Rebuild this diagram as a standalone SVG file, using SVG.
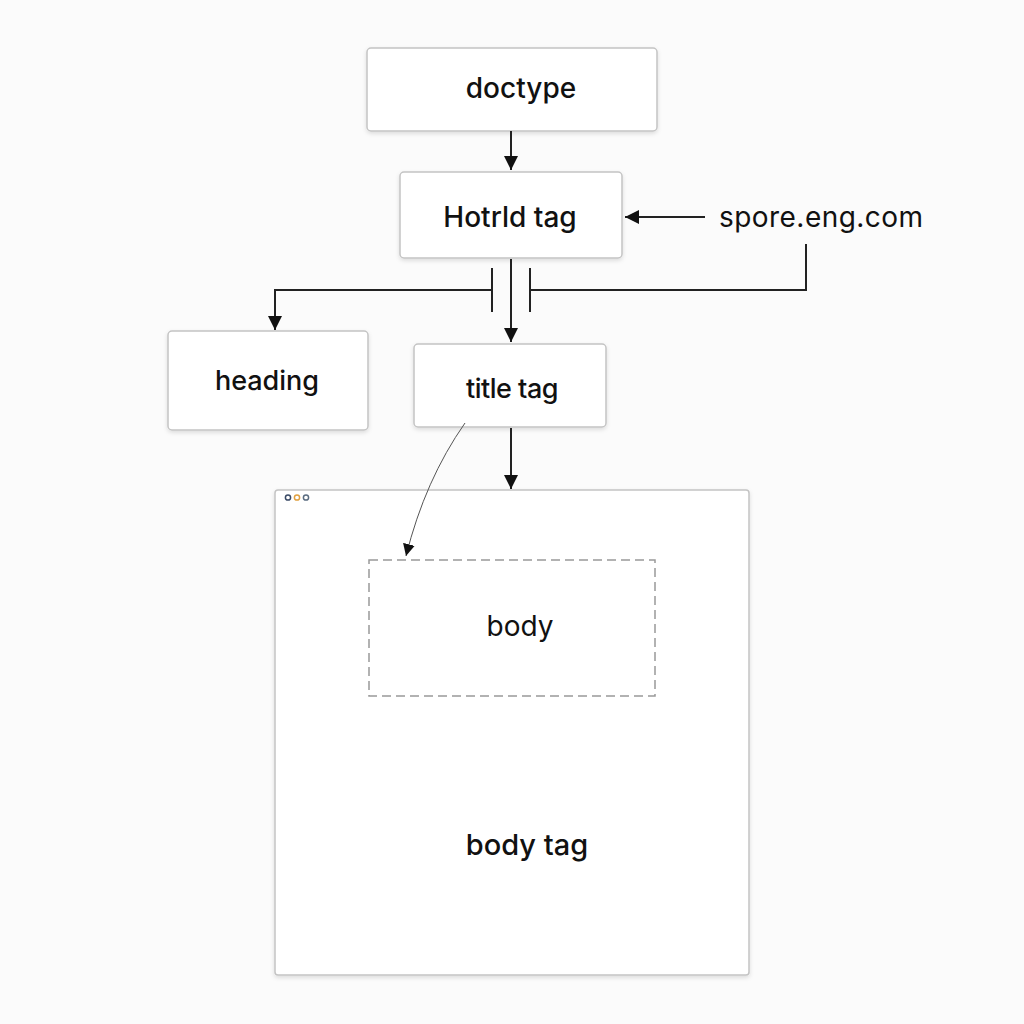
<svg xmlns="http://www.w3.org/2000/svg" width="1024" height="1024" viewBox="0 0 1024 1024">
<defs>
<filter id="sh" x="-10%" y="-10%" width="120%" height="130%">
<feDropShadow dx="0" dy="2" stdDeviation="2" flood-color="#000" flood-opacity="0.12"/>
</filter>
<marker id="ah" viewBox="0 0 10 10" refX="10" refY="5" markerWidth="14" markerHeight="14" markerUnits="userSpaceOnUse" orient="auto">
<path d="M0,0 L10,5 L0,10 z" fill="#111"/>
</marker>
<marker id="ahs" viewBox="0 0 10 10" refX="10" refY="5" markerWidth="12" markerHeight="12" markerUnits="userSpaceOnUse" orient="auto">
<path d="M0,0 L10,5 L0,10 z" fill="#111"/>
</marker>
</defs>
<style>
.box{fill:#fff;stroke:#c4c4c4;stroke-width:1.5;filter:url(#sh)}
.lbl{font-family:Inter,"Liberation Sans",sans-serif;font-weight:500;fill:#111;text-anchor:middle}
.reg{font-family:Inter,"Liberation Sans",sans-serif;font-weight:400;fill:#111}
.ln{fill:none;stroke:#222;stroke-width:2}
</style>
<rect width="1024" height="1024" fill="#fbfbfb"/>
<g id="doctype">
<rect class="box" x="367" y="48" width="290" height="83" rx="4"/>
<text class="lbl" x="521" y="98" font-size="28">doctype</text>
</g>
<g id="hotrld">
<rect class="box" x="400" y="172" width="222" height="86" rx="4"/>
<text class="lbl" x="510" y="227" font-size="28">Hotrld tag</text>
</g>
<g id="spore">
<text class="reg" x="719" y="227" font-size="28" textLength="204">spore.eng.com</text>
</g>
<g id="heading">
<rect class="box" x="168" y="331" width="200" height="99" rx="4"/>
<text class="lbl" x="267" y="390" font-size="27">heading</text>
</g>
<g id="title">
<rect class="box" x="414" y="344" width="192" height="83" rx="4"/>
<text class="lbl" x="512" y="398" font-size="27" letter-spacing="-0.5">title tag</text>
</g>
<g id="bodytag">
<rect class="box" x="275" y="490" width="474" height="485" rx="3"/>
<circle cx="288" cy="497.5" r="2.6" fill="none" stroke="#3a4a66" stroke-width="1.5"/>
<circle cx="297" cy="497.5" r="2.6" fill="none" stroke="#e0a040" stroke-width="1.5"/>
<circle cx="306" cy="497.5" r="2.6" fill="none" stroke="#5a6c80" stroke-width="1.5"/>
<text class="lbl" x="527" y="855" font-size="29">body tag</text>
</g>
<g id="body">
<rect x="369" y="560" width="286" height="136" fill="none" stroke="#999" stroke-width="1.5" stroke-dasharray="9,5"/>
<text class="reg" x="520" y="636" font-size="28" text-anchor="middle">body</text>
</g>
<g id="connectors">
<line class="ln" x1="511" y1="131" x2="511" y2="170" marker-end="url(#ah)"/>
<line class="ln" x1="705" y1="217" x2="625" y2="217" marker-end="url(#ah)"/>
<polyline class="ln" points="806,244 806,290 530,290"/>
<line class="ln" x1="530" y1="268" x2="530" y2="312"/>
<line class="ln" x1="492" y1="268" x2="492" y2="312"/>
<polyline class="ln" points="492,290 275,290 275,330" marker-end="url(#ah)"/>
<line class="ln" x1="511" y1="259" x2="511" y2="342" marker-end="url(#ah)"/>
<line class="ln" x1="511" y1="428" x2="511" y2="489" marker-end="url(#ah)"/>
<path d="M465,423 Q425,480 406,556" fill="none" stroke="#555" stroke-width="1" marker-end="url(#ahs)"/>
</g>
</svg>
